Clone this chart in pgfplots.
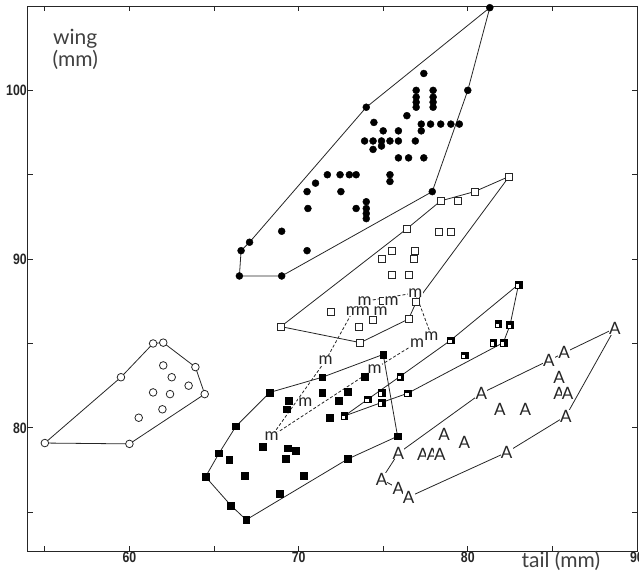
\documentclass[border=0pt]{standalone}
\usepackage{fontspec}
\setmainfont{Lato}
\newfontfamily\tickfont[FakeStretch=0.82]{Liberation Sans}
\usepackage{pgfplots}
\pgfplotsset{compat=1.18}

\pgfplotstableread{
x y
83.0 88.5
81.8 86.15
82.5 86.1
81.5 85.05
82.1 85.05
79.0 85.2
79.8 84.3
76.0 83.05
76.45 82.05
74.9 82.1
74.9 81.5
74.1 81.7
72.7 80.7
}\halfsq

\begin{document}
\begin{tikzpicture}
\begin{axis}[
    width=609pt, height=545pt, scale only axis,
    xmin=54, xmax=90, ymin=72.7, ymax=105,
    xtick={55,60,...,90}, xticklabels={,60,,70,,80,,90},
    ytick={75,80,...,105}, yticklabels={,80,,90,,100,},
    tick align=inside, major tick length=5pt,
    axis line style={line width=0.9pt, black!85},
    every tick/.style={line width=0.8pt, black!85},
    tick label style={font=\tickfont\bfseries\fontsize{15}{15}\selectfont, text=black!85},
    xticklabel style={inner sep=1pt},
    yticklabel style={inner sep=1pt},
    clip=false,
    ]
    % convex hulls
    \addplot [line width=0.8pt, black!85] coordinates {
        (66.5,89.0) (66.6,90.5) (67.1,91.0) (74.0,99.0) (81.3,104.9)
        (80.0,100.0) (77.9,94.0) (69.0,89.0) (66.5,89.0) };
    \addplot [line width=0.8pt, black!85] coordinates {
        (68.95,86.0) (76.4,91.8) (78.4,93.45) (80.4,94.0) (82.45,94.9)
        (76.95,87.45) (76.5,86.45) (73.65,85.05) (68.95,86.0) };
    \addplot [line width=0.8pt, black!85, densely dashed] coordinates {
        (68.4,79.5) (74.5,83.5) (77.0,85.05) (77.85,85.45) (76.9,88.0)
        (73.9,87.5) (73.2,86.9) (71.6,84.0) (68.4,79.5) };
    \addplot [line width=0.8pt, black!85] coordinates {
        (75.0,84.35) (75.85,79.5) (72.9,78.15) (66.9,74.55) (66.0,75.4)
        (64.5,77.1) (65.3,78.5) (66.3,80.1) (68.3,82.1) (71.4,83.0) (75.0,84.35) };
    \addplot [line width=0.8pt, black!85] coordinates {
        (72.7,80.7) (74.1,81.7) (76.0,83.05) (79.0,85.2) (83.0,88.5)
        (82.5,86.1) (82.1,85.05) (76.45,82.05) (74.9,81.5) (72.7,80.7) };
    \addplot [line width=0.8pt, black!85] coordinates {
        (75.9,78.5) (80.8,82.05) (84.8,84.0) (85.7,84.45) (88.7,85.9)
        (85.8,80.7) (82.3,78.55) (76.5,75.9) (75.9,76.4) (74.9,76.95) (75.9,78.5) };
    \addplot [line width=0.8pt, black!85] coordinates {
        (55.0,79.1) (60.0,79.05) (64.45,82.0) (63.9,83.6) (62.0,85.05)
        (61.4,85.0) (59.5,83.0) (55.0,79.1) };

    % filled circles
    \addplot [only marks, mark=*, mark size=3.5pt, black] table {
81.3 104.9
77.4 101.0
76.95 100.0
76.95 99.6
76.95 99.3
76.95 99.0
77.95 100.0
77.95 99.6
77.95 99.3
77.95 99.0
80.0 100.0
74.0 99.0
76.4 98.5
74.45 98.1
77.25 98.0
77.8 98.0
78.4 98.0
79.0 98.0
79.5 98.0
77.25 97.6
75.0 97.6
75.9 97.6
73.9 97.0
74.4 97.0
74.9 97.0
75.4 97.0
75.9 97.0
76.9 97.0
74.4 96.5
74.9 96.7
75.9 96.0
76.5 96.0
77.4 96.0
71.7 95.0
72.45 95.0
73.0 95.0
73.4 95.0
75.4 95.0
75.4 94.6
71.0 94.5
70.5 94.0
72.5 94.0
77.9 94.0
70.55 93.0
73.4 93.0
74.0 93.4
74.0 93.0
74.0 92.7
74.0 92.4
69.0 91.65
67.1 91.0
70.5 90.5
66.6 90.5
66.5 89.0
69.0 89.0
    };
    % open squares
    \addplot [only marks, mark=square*, mark size=3.5pt, black!85,
        mark options={fill=white, line width=0.8pt}] table {
82.45 94.9
80.4 94.0
79.4 93.45
78.4 93.45
78.3 91.6
79.0 91.6
76.4 91.8
75.5 90.5
76.9 90.5
74.95 90.0
76.8 90.0
75.5 89.05
76.5 89.05
76.95 87.45
75.0 87.5
74.4 86.4
71.9 86.9
73.55 86.0
76.5 86.45
68.95 86.0
73.65 85.05
    };
    % filled squares
    \addplot [only marks, mark=square*, mark size=3.4pt, black] table {
75.0 84.35
71.4 83.0
73.9 83.05
68.3 82.1
71.4 82.1
72.9 82.15
69.4 81.6
69.3 81.1
72.35 81.6
71.85 80.6
66.3 80.1
67.9 78.9
69.35 78.8
69.85 78.65
69.25 78.15
65.3 78.5
65.9 78.1
64.5 77.1
66.8 77.15
70.3 77.15
72.9 78.15
75.85 79.5
68.9 76.1
66.0 75.4
66.9 74.55
    };
    % half-filled squares: black square with a white corner
    \addplot [only marks, mark=square*, mark size=3.4pt, black] table {\halfsq};
    \addplot [only marks, mark=square*, mark size=1.2pt, white,
        mark options={xshift=-1.1pt, yshift=-1.1pt, draw=none}] table {\halfsq};
    % open circles
    \addplot [only marks, mark=*, mark size=3.8pt, black!85,
        mark options={fill=white, line width=0.8pt}] table {
55.0 79.1
60.0 79.05
59.5 83.0
61.4 85.0
62.0 85.05
63.9 83.6
64.45 82.0
62.0 83.7
62.5 83.0
61.4 82.1
62.4 82.0
63.5 82.5
61.95 81.1
60.55 80.6
    };
    % m
    \addplot [only marks, mark=text, text mark={m}, text mark as node=true,
        text mark style={font=\fontsize{17}{17}\selectfont, text=black!85,
        fill=white, inner sep=0.2pt}] table {
76.9 88.0
75.5 87.5
73.9 87.5
73.2 86.9
73.8 86.9
74.85 86.9
77.85 85.45
77.0 85.05
71.6 84.0
74.5 83.5
70.4 81.5
68.4 79.5
    };
    % A
    \addplot [only marks, mark=text, text mark={A}, text mark as node=true,
        text mark style={font=\fontsize{17}{17}\selectfont, text=black!85,
        fill=white, inner sep=0.2pt}] table {
88.7 85.9
85.7 84.45
84.8 84.0
85.4 83.0
85.4 82.05
85.9 82.05
80.8 82.05
81.9 81.1
83.4 81.1
85.8 80.7
78.6 79.6
79.8 79.15
77.35 78.4
77.9 78.4
78.35 78.4
75.9 78.5
82.3 78.55
74.9 76.95
75.9 76.4
76.5 75.9
    };

    \node [font=\fontsize{21}{22}\selectfont, align=center, text=black!75]
        at (axis cs:56.8,102.45) {wing\\(mm)};
    \node [font=\fontsize{21}{22}\selectfont, anchor=base, text=black!75]
        at (axis cs:85.5,71.75) {tail (mm)};
    % page frame: 639 x 571 around the axis, as in the reference
    \coordinate (pageSW) at (axis cs:52.35,71.52);
    \coordinate (pageNE) at (axis cs:90.12,105.355);
\end{axis}
\pgfresetboundingbox
\useasboundingbox (pageSW) rectangle (pageNE);
\end{tikzpicture}
\end{document}
